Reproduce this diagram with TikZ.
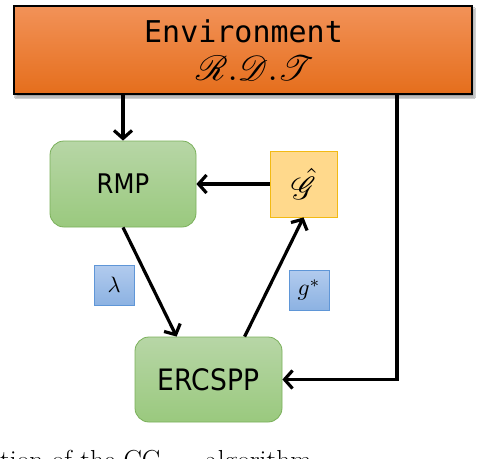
\documentclass[tikz,border=0pt]{standalone}
\usepackage{fontspec}
\usepackage{mathrsfs}
\usetikzlibrary{arrows.meta,shadows.blur}
\newfontfamily\boxfont[FakeStretch=0.9]{DejaVu Sans}
\newfontfamily\envfont{DejaVu Sans Mono}
\definecolor{envtop}{RGB}{242,146,88}
\definecolor{envbot}{RGB}{229,110,28}
\definecolor{grtop}{RGB}{183,214,166}
\definecolor{grbot}{RGB}{154,201,126}
\definecolor{grline}{RGB}{122,176,90}
\definecolor{yfill}{RGB}{255,217,140}
\definecolor{yline}{RGB}{242,186,20}
\definecolor{bltop}{RGB}{178,203,238}
\definecolor{blbot}{RGB}{140,178,226}
\definecolor{blline}{RGB}{95,150,215}
\tikzset{
  envbox/.style={draw=black, line width=1.8pt, top color=envtop, bottom color=envbot,
    minimum width=458pt, minimum height=88pt, inner sep=0pt,
    blur shadow={shadow xshift=2pt, shadow yshift=-3pt, shadow blur steps=6, shadow opacity=40}},
  greenbox/.style={draw=grline, line width=0.8pt, rounded corners=14pt,
    top color=grtop, bottom color=grbot, inner sep=0pt},
  ybox/.style={draw=yline, line width=0.8pt, fill=yfill, inner sep=0pt,
    minimum width=67pt, minimum height=66pt},
  bbox/.style={draw=blline, line width=0.8pt, top color=bltop, bottom color=blbot,
    inner sep=0pt, minimum width=40pt, minimum height=40pt},
  arr/.style={line width=3.2pt, -{Straight Barb[length=8pt,width=18pt,line width=3.2pt]}},
  captext/.style={anchor=base west, inner sep=0pt, font=\fontsize{27.5}{30}\selectfont}
}
\begin{document}
\begin{tikzpicture}[x=1pt,y=-1pt]
\useasboundingbox (0,0) rectangle (482,458);
\clip (0,0) rectangle (482,458);
\fill[white] (0,0) rectangle (482,458);
\node[envbox] (env) at (243,50) {};
\node[anchor=base, inner sep=0pt, font=\envfont\fontsize{30}{32}\selectfont] (envtxt) at (243.5,42) {Environment};
\node[inner sep=0pt] (rdt) at (255,68.5) {\resizebox{118pt}{!}{$\mathscr{R}.\mathscr{D}.\mathscr{T}$}};
\node[greenbox, minimum width=146pt, minimum height=86pt] (rmp) at (123,184)
  {\boxfont\fontsize{27}{30}\selectfont RMP};
\node[greenbox, minimum width=147pt, minimum height=85pt] (ercspp) at (208.5,379.5)
  {\boxfont\fontsize{29.5}{32}\selectfont ERCSPP};
\node[ybox] (ghat) at (303.5,184) {\resizebox{25pt}{!}{$\hat{\mathscr{G}}$}};
\node[bbox] (lam) at (114,285) {\resizebox{13pt}{!}{$\lambda$}};
\node[bbox] (gstar) at (309,290) {\resizebox{23pt}{!}{$g^{*}$}};
\draw[arr] (env.south -| rmp.north) -- (rmp.north);
\draw[arr] (ghat.west) -- (rmp.east);
\draw[arr] (rmp.south) -- ([xshift=42pt]ercspp.north west);
\draw[arr] ([xshift=110pt]ercspp.north west) -- (ghat.south);
\draw[arr] ([xshift=-76pt]env.south east) |- (ercspp.east);
\node[captext] (cap1) at (0,469) {tion of the CG};
\node[captext] (cap2) at (205,469) {algorithm};
\end{tikzpicture}
\end{document}
